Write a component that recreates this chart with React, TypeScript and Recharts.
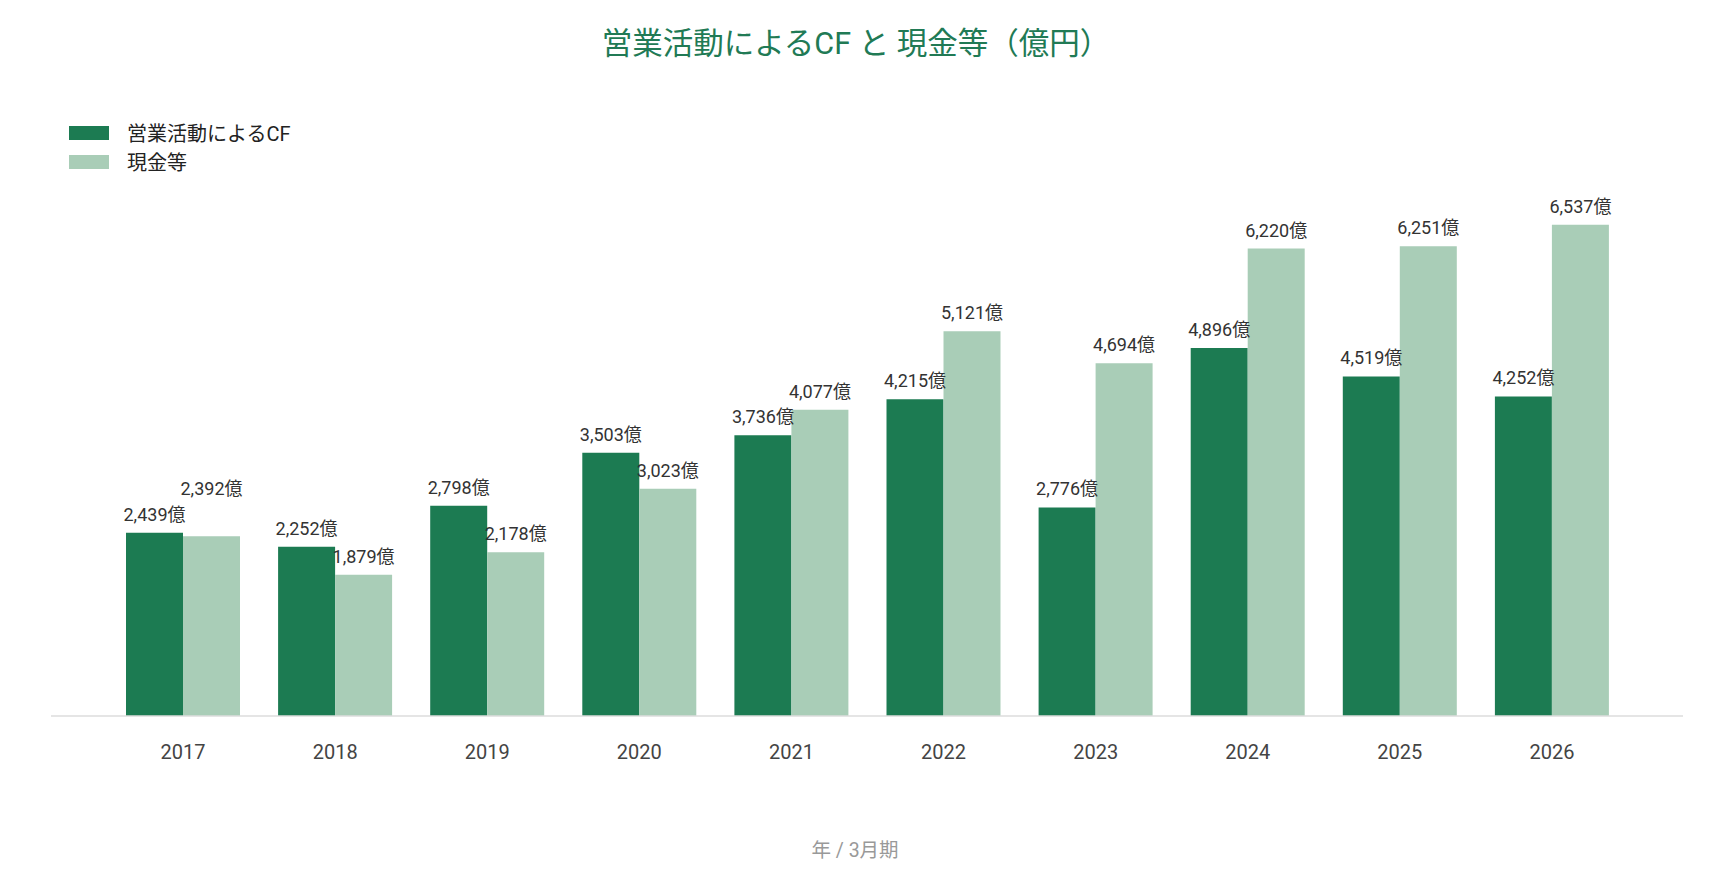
import React from 'react';
import { BarChart, Bar, XAxis, YAxis, Legend, Label, LabelList } from 'recharts';

const years = ['2017', '2018', '2019', '2020', '2021', '2022', '2023', '2024', '2025', '2026'];
const operatingCF = [2439, 2252, 2798, 3503, 3736, 4215, 2776, 4896, 4519, 4252];
const cashEquivalents = [2392, 1879, 2178, 3023, 4077, 5121, 4694, 6220, 6251, 6537];

const seriesNames = ['営業活動によるCF', '現金等'];
const seriesColors = ['#1c7b52', '#a9cdb7'];
const titleText = '営業活動によるCF と 現金等（億円）';
const axisLabelText = '年 / 3月期';
const unitSuffix = '億';

const data = years.map((y, i) => ({ year: y, cf: operatingCF[i], cash: cashEquivalents[i] }));

const FONT = "Roboto, 'Noto Sans CJK JP', sans-serif";

const fmt = (v: number) => v.toLocaleString('en-US') + unitSuffix;

const makeLabel = (series: 'cf' | 'cash') => (props: any) => {
  const { x, y, width, height, value, index } = props;
  const cx = Number(x) + Number(width) / 2;
  const top = Number(y);
  let baseline = top - 12;
  if (series === 'cash') {
    const scale = Number(height) / Number(value);
    const bottom = top + Number(height);
    const otherTop = bottom - operatingCF[index] * scale;
    const otherBase = otherTop - 12;
    if (Math.abs(otherBase - baseline) < 22) {
      baseline = Math.min(baseline, otherBase - 26);
    }
  }
  return (
    <text x={cx} y={baseline} textAnchor="middle" fill="#333" fontSize={18} fontFamily={FONT}>
      {fmt(Number(value))}
    </text>
  );
};

const LegendContent = () => (
  <div style={{ fontFamily: FONT }}>
    {seriesNames.map((n, i) => (
      <div key={n} style={{ display: 'flex', alignItems: 'center', height: 29 }}>
        <div style={{ width: 40, height: 14, background: seriesColors[i], marginRight: 18 }} />
        <span style={{ fontSize: 20, color: '#222' }}>{n}</span>
      </div>
    ))}
  </div>
);

export default function App() {
  return (
    <div style={{ position: 'absolute', left: 0, top: 0, width: 1710, height: 885, background: '#fff' }}>
      <div
        style={{
          position: 'absolute',
          left: 8,
          top: 24,
          width: 1696,
          textAlign: 'center',
          fontSize: 30.5,
          lineHeight: '40px',
          color: '#217a55',
          fontFamily: FONT,
        }}
      >
        {titleText}
      </div>
      <BarChart
        width={1710}
        height={885}
        data={data}
        margin={{ top: 190, right: 27, bottom: 129, left: 51 }}
        barGap={0}
      >
        <XAxis
          dataKey="year"
          height={40}
          padding={{ left: 56, right: 55 }}
          axisLine={{ stroke: '#dcdcdc', strokeWidth: 1.5 }}
          tickLine={false}
          tickSize={0}
          tickMargin={29}
          tick={{ fill: '#444', fontSize: 20, fontFamily: FONT }}
          interval={0}
        >
          <Label
            value={axisLabelText}
            position="bottom"
            offset={87}
            dx={-12}
            fill="#999"
            fontSize={19.5}
            fontFamily={FONT}
          />
        </XAxis>
        <YAxis hide domain={[0, 7000]} />
        <Legend
          layout="horizontal"
          verticalAlign="middle"
          align="center"
          wrapperStyle={{ left: 69, top: 118, width: 'auto' }}
          content={<LegendContent />}
        />
        <Bar dataKey="cf" name={seriesNames[0]} fill={seriesColors[0]} barSize={57} isAnimationActive={false}>
          <LabelList dataKey="cf" content={makeLabel('cf')} />
        </Bar>
        <Bar dataKey="cash" name={seriesNames[1]} fill={seriesColors[1]} barSize={57} isAnimationActive={false}>
          <LabelList dataKey="cash" content={makeLabel('cash')} />
        </Bar>
      </BarChart>
    </div>
  );
}
